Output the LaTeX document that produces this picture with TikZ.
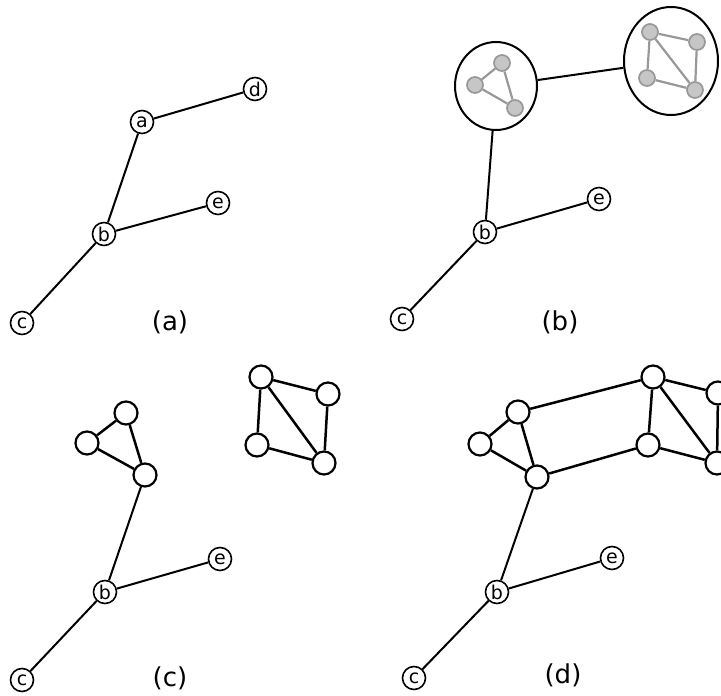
\documentclass[tikz,border=0pt]{standalone}
\usepackage{fontspec}
\setmainfont{DejaVu Sans}
\usetikzlibrary{shapes.geometric}
\definecolor{nodegray}{HTML}{C6C6C6}
\definecolor{edgegray}{HTML}{989898}
\tikzset{
  lettered/.style={circle, draw, line width=1.6pt, minimum size=23pt, inner sep=0pt, font=\fontsize{19}{19}\selectfont},
  blank/.style={circle, draw, line width=2.2pt, minimum size=23pt, inner sep=0pt},
  small/.style={circle, draw=edgegray, fill=nodegray, line width=1.7pt, minimum size=16pt, inner sep=0pt},
  cluster/.style={ellipse, draw, line width=2pt, inner sep=0pt},
  tree/.style={line width=2pt},
  link/.style={line width=2.5pt},
  glink/.style={line width=2.2pt, draw=edgegray},
  caption/.style={font=\fontsize{26}{26}\selectfont}
}
\begin{document}
\begin{tikzpicture}[x=1pt, y=-1pt]
\useasboundingbox (0,0) rectangle (721,696);
\clip (0,0) rectangle (721,696);

% (a) the tree
\node[lettered] (aa) at (142,122) {a};
\node[lettered] (ad) at (255,89) {d};
\node[lettered] (ab) at (104,234) {b};
\node[lettered] (ae) at (218,203) {e};
\node[lettered] (ac) at (22,323) {c};
\draw[tree] (aa) -- (ad) (aa) -- (ab) (ab) -- (ae) (ab) -- (ac);
\node[caption] (capa) at (170,322) {(a)};

% (b) a and d as clusters
\node[cluster, minimum width=82pt, minimum height=88pt] (bl) at (496,86) {};
\node[cluster, minimum width=94pt, minimum height=108pt] (br) at (671,61) {};
\node[small] (bl1) at (502,63) {};
\node[small] (bl2) at (475,85) {};
\node[small] (bl3) at (515,108) {};
\node[small] (br1) at (650,32) {};
\node[small] (br2) at (697,42) {};
\node[small] (br3) at (647,78) {};
\node[small] (br4) at (695,90) {};
\draw[glink] (bl1) -- (bl2) (bl2) -- (bl3) (bl1) -- (bl3);
\draw[glink] (br1) -- (br2) (br1) -- (br3) (br1) -- (br4) (br2) -- (br4) (br3) -- (br4);
\node[lettered] (bb) at (485,232) {b};
\node[lettered] (be) at (599,199) {e};
\node[lettered] (bc) at (402,319) {c};
\draw[tree] (bl) -- (br) (bl) -- (bb) (bb) -- (be) (bb) -- (bc);
\node[caption] (capb) at (560,322) {(b)};

% (c) clusters opened
\node[blank] (ct1) at (126,413) {};
\node[blank] (ct2) at (87,443) {};
\node[blank] (ct3) at (145,475) {};
\node[blank] (cs1) at (261,377) {};
\node[blank] (cs2) at (328,394) {};
\node[blank] (cs3) at (257,445) {};
\node[blank] (cs4) at (324,463) {};
\draw[link] (ct1) -- (ct2) (ct2) -- (ct3) (ct1) -- (ct3);
\draw[link] (cs1) -- (cs2) (cs1) -- (cs3) (cs1) -- (cs4) (cs2) -- (cs4) (cs3) -- (cs4);
\node[lettered] (cb) at (105,592) {b};
\node[lettered] (ce) at (220,559) {e};
\node[lettered] (cc) at (22,680) {c};
\draw[tree] (ct3) -- (cb) (cb) -- (ce) (cb) -- (cc);
\node[caption] (capc) at (170,678) {(c)};

% (d) clusters joined
\node[blank] (dt1) at (518,412) {};
\node[blank] (dt2) at (480,444) {};
\node[blank] (dt3) at (537,477) {};
\node[blank] (ds1) at (653,377) {};
\node[blank] (ds2) at (718,393) {};
\node[blank] (ds3) at (648,445) {};
\node[blank] (ds4) at (717,463) {};
\draw[link] (dt1) -- (dt2) (dt2) -- (dt3) (dt1) -- (dt3);
\draw[link] (ds1) -- (ds2) (ds1) -- (ds3) (ds1) -- (ds4) (ds2) -- (ds4) (ds3) -- (ds4);
\draw[link] (dt1) -- (ds1) (dt3) -- (ds3);
\node[lettered] (db) at (497,592) {b};
\node[lettered] (de) at (612,558) {e};
\node[lettered] (dc) at (414,678) {c};
\draw[tree] (dt3) -- (db) (db) -- (de) (db) -- (dc);
\node[caption] (capd) at (563,675) {(d)};
\end{tikzpicture}
\end{document}
